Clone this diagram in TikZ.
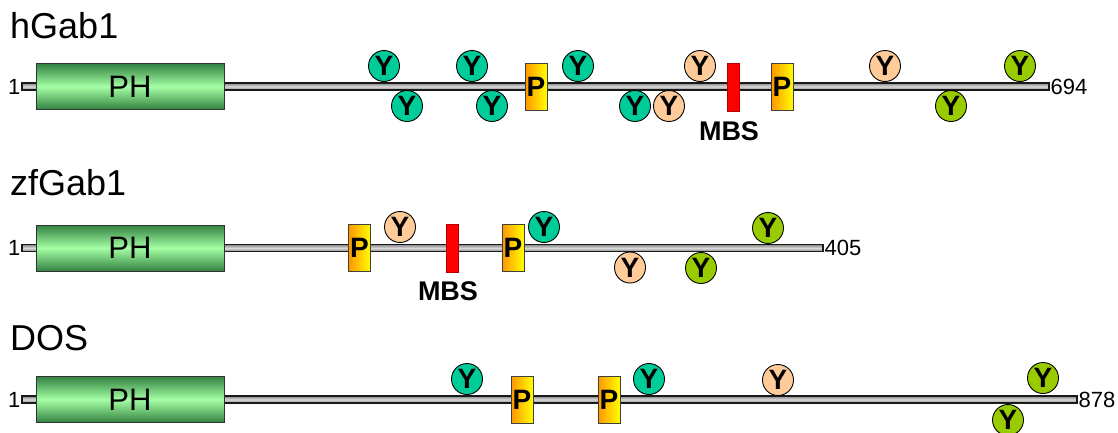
\documentclass[tikz,border=0pt]{standalone}
\usepackage{fontspec}
\setmainfont{Liberation Sans}
\usetikzlibrary{shapes.geometric}
\definecolor{teal1}{RGB}{0,204,153}
\definecolor{peach}{RGB}{255,204,153}
\definecolor{lime1}{RGB}{153,204,0}
\definecolor{phdark}{RGB}{50,130,65}
\definecolor{phlight}{RGB}{165,255,165}
\definecolor{porange}{RGB}{255,150,0}
\definecolor{pyellow}{RGB}{255,255,0}
\tikzset{
  title/.style={anchor=base west, inner sep=0pt, font=\fontsize{36}{40}\selectfont},
  numlabel/.style={inner sep=0.8pt, font=\fontsize{22}{24}\selectfont},
  backbone/.style={draw=black!90, line width=1.1pt, top color=gray!95, bottom color=gray!95, middle color=gray!30, minimum height=7pt, inner sep=0pt},
  phbox/.style={draw=black!80, line width=0.9pt, top color=phdark, bottom color=phdark, middle color=phlight, minimum width=188pt, minimum height=46pt, inner sep=0pt, font=\fontsize{31}{32}\selectfont},
  ysite/.style={circle, draw=black, line width=0.9pt, minimum size=31pt, inner sep=0pt, font=\bfseries\fontsize{28}{28}\selectfont},
  yteal/.style={ysite, fill=teal1},
  ypeach/.style={ysite, fill=peach},
  ylime/.style={ysite, fill=lime1},
  pbox/.style={draw=black!75, line width=0.8pt, left color=porange, right color=pyellow, minimum width=22pt, minimum height=47pt, inner sep=0pt, font=\bfseries\fontsize{28}{28}\selectfont},
  mbsbar/.style={draw=red!70!black, line width=0.5pt, fill=red, minimum width=12pt, minimum height=48pt, inner sep=0pt},
  mbslabel/.style={inner sep=0pt, font=\bfseries\fontsize{27}{27}\selectfont}
}
\begin{document}
\begin{tikzpicture}[x=1pt, y=-1pt]
\useasboundingbox (0,0) rectangle (1118,432);
% ---------- hGab1 ----------
\node[title] (t1) at (10,38) {hGab1};
\node[backbone, minimum width=1027pt] (bb1) at (535.5,86.5) {};
\node[numlabel, anchor=east] (s1) at (bb1.west) {1};
\node[numlabel, anchor=west] (e1) at (bb1.east) {694};
\node[phbox] (ph1) at (130,86.5) {PH};
\node[yteal] (a1) at (384,66) {Y};
\node[yteal] (a2) at (407,106) {Y};
\node[yteal] (a3) at (472,66) {Y};
\node[yteal] (a4) at (492,106) {Y};
\node[pbox] (p11) at (536,86.5) {P};
\node[yteal] (a5) at (578,66) {Y};
\node[yteal] (a6) at (635,106) {Y};
\node[ypeach] (a7) at (669,106) {Y};
\node[ypeach] (a8) at (700,66) {Y};
\node[mbsbar] (m1) at (733,87) {};
\node[mbslabel] (ml1) at (729,131) {MBS};
\node[pbox] (p12) at (782,86.5) {P};
\node[ypeach] (a9) at (885,66) {Y};
\node[ylime] (a10) at (951,106) {Y};
\node[ylime] (a11) at (1020,66) {Y};
% ---------- zfGab1 ----------
\node[title] (t2) at (10,195) {zfGab1};
\node[backbone, minimum width=801pt] (bb2) at (422.5,248) {};
\node[numlabel, anchor=east] (s2) at (bb2.west) {1};
\node[numlabel, anchor=west] (e2) at (bb2.east) {405};
\node[phbox] (ph2) at (130,248) {PH};
\node[pbox] (p21) at (359.5,248) {P};
\node[ypeach] (b1) at (400,227) {Y};
\node[mbsbar] (m2) at (452,248) {};
\node[mbslabel] (ml2) at (448,291) {MBS};
\node[pbox] (p22) at (513,248) {P};
\node[yteal] (b2) at (544,227) {Y};
\node[ypeach] (b3) at (630,267.5) {Y};
\node[ylime] (b4) at (701,268) {Y};
\node[ylime] (b5) at (768,228) {Y};
% ---------- DOS ----------
\node[title] (t3) at (10,350) {DOS};
\node[backbone, minimum width=1055pt] (bb3) at (549.5,399.5) {};
\node[numlabel, anchor=east] (s3) at (bb3.west) {1};
\node[numlabel, anchor=west] (e3) at (bb3.east) {878};
\node[phbox] (ph3) at (130,399.5) {PH};
\node[yteal] (c1) at (467,379) {Y};
\node[pbox] (p31) at (522,399.5) {P};
\node[pbox] (p32) at (609,399.5) {P};
\node[yteal] (c2) at (649,379) {Y};
\node[ypeach] (c3) at (778,380) {Y};
\node[ylime] (c4) at (1008,420) {Y};
\node[ylime] (c5) at (1043,378) {Y};
\end{tikzpicture}
\end{document}
